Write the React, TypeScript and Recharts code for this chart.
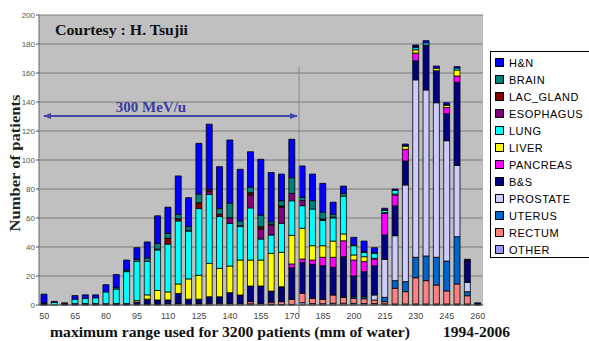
import React from 'react';
import { BarChart, Bar, XAxis, YAxis, CartesianGrid } from 'recharts';

const ranges = [50, 55, 60, 65, 70, 75, 80, 85, 90, 95, 100, 105, 110, 115, 120, 125, 130, 135, 140, 145, 150, 155, 160, 165, 170, 175, 180, 185, 190, 195, 200, 205, 210, 215, 220, 225, 230, 235, 240, 245, 250, 255, 260];

const hn = [6, 0.7, 0, 2.5, 2.5, 2, 5, 9, 7, 8, 11, 19, 18, 26.5, 20, 35, 45, 28.7, 43.7, 35.6, 24.5, 38.5, 34, 18.4, 26.5, 21.6, 18.3, 19.9, 8.3, 5, 5.3, 7.3, 3.4, 1, 1, 1, 1, 1.5, 1.5, 1.3, 1, 0.5, 0];
const brain = [0.5, 0, 0, 0, 0, 0, 0, 1, 1, 1.5, 2.5, 4, 3.5, 3, 2.5, 6, 0, 4.2, 9.9, 3.3, 3.7, 8, 1.6, 3.6, 10.8, 2.3, 5.8, 4.7, 2, 2, 0.5, 0.5, 0.5, 0.5, 0, 0.5, 0.8, 0, 0, 0, 0, 0, 0];
const lacGland = [0, 0, 0.5, 0, 0, 0, 0, 0, 0, 0, 0, 0.5, 4, 1.5, 0.5, 4, 1.5, 1.5, 0, 0.5, 1.6, 1.5, 0.5, 1, 0, 0, 0, 1, 0.5, 0, 0, 0, 0, 0, 0, 0, 0, 0, 0, 0, 0, 0, 0];
const esophagus = [0, 0, 0, 0, 0, 0, 0, 0, 0, 0, 0, 0, 0, 0, 0, 0, 2, 0, 3.9, 0, 9, 7, 7, 11, 5.1, 3.5, 0, 0, 0, 0, 0, 0, 0, 0, 0, 0, 0, 0, 0, 0, 0, 0, 0];
const lung = [0, 1.8, 0, 3, 3.5, 4, 8, 10, 22, 27, 23, 28, 33, 43.5, 33, 46, 47.5, 35.7, 29.4, 23.2, 35.9, 14.5, 12.7, 20, 23.9, 15.6, 25.3, 17.4, 16, 26, 6.4, 3, 3.4, 1.5, 2.5, 0, 1.5, 1.5, 0, 0.5, 1.4, 0, 0];
const liver = [0, 0, 0, 0, 0, 0, 0, 0, 0, 1, 3, 6.5, 5.5, 6.5, 14, 16.5, 23, 19.6, 18.4, 24.1, 17.9, 17.9, 26, 23.7, 19.7, 21.2, 9.9, 8, 11.2, 4.7, 3.5, 3.4, 0.5, 0.5, 0.6, 2.1, 2.3, 0, 1.7, 1.5, 4.1, 0.5, 0];
const pancreas = [0, 0, 0, 0, 0, 0, 0, 0, 0, 0, 0, 0, 0, 0, 0, 0, 0, 0, 0, 0, 0, 0, 0, 0, 2.6, 2.3, 2.9, 5.8, 6.9, 11, 11, 6.9, 4.6, 14.9, 7.6, 8.1, 5.3, 0.5, 0, 4.3, 4.3, 0, 0];
const bs = [1, 0, 1, 1, 1, 1, 1, 1, 1, 2, 3.5, 3, 2.5, 7, 3.5, 3, 4.5, 4.5, 7.5, 5.9, 10.8, 12, 7.6, 10.3, 21.8, 21.4, 23.5, 23.2, 19.1, 27.6, 14.3, 17.3, 20.2, 16.8, 20.5, 16.5, 13.1, 30.5, 22.1, 18.6, 57.3, 14.9, 1.5];
const prostate = [0, 0, 0, 0, 0, 0, 0, 0, 0, 0, 0, 0, 0, 0, 0, 0, 0, 0, 0, 0, 0, 0, 0, 0, 0, 0, 0, 0, 0, 0, 0, 0, 3.5, 26.2, 31, 66.7, 122.4, 114.5, 106.6, 83, 49.2, 6.4, 0];
const uterus = [0, 0, 0, 0, 0, 0, 0, 0, 0, 0, 0, 0, 0, 0, 0, 0, 0, 0, 0, 0, 0, 0, 0, 0, 0, 0, 0, 0, 0, 0.5, 1.2, 1.4, 0, 3, 5.3, 6.9, 14.1, 17, 19.1, 20.6, 32.6, 2.8, 0];
const rectum = [0, 0, 0, 0, 0, 0, 0, 0, 0, 0, 0, 0, 0, 0, 0, 0, 0, 0, 0, 0, 1.5, 0, 1.5, 2, 3.5, 6.4, 3.6, 3, 5.7, 4, 3.3, 3.3, 2.4, 1.5, 10.8, 8.5, 18.1, 16.1, 13.1, 9, 13.8, 5.7, 0];
const other = [0, 0, 0, 0, 0, 0, 0, 0, 0, 0, 0.5, 0.5, 1, 1, 0.5, 1, 1.2, 1.2, 1, 1, 0.8, 1.1, 0.5, 0.3, 0.4, 1.6, 1, 0.9, 1.2, 1.2, 1.2, 1, 1, 0.8, 0.7, 0.7, 0.7, 0.7, 0.7, 0.7, 0.7, 0.7, 0];

const yTicks = [0, 20, 40, 60, 80, 100, 120, 140, 160, 180, 200];

// stacking order: bottom first
const series = [
  { key: 'OTHER', values: other, color: '#9999FF' },
  { key: 'RECTUM', values: rectum, color: '#FF8080' },
  { key: 'UTERUS', values: uterus, color: '#0066CC' },
  { key: 'PROSTATE', values: prostate, color: '#CCCCFF' },
  { key: 'B&S', values: bs, color: '#000080' },
  { key: 'PANCREAS', values: pancreas, color: '#FF00FF' },
  { key: 'LIVER', values: liver, color: '#FFFF00' },
  { key: 'LUNG', values: lung, color: '#00FFFF' },
  { key: 'ESOPHAGUS', values: esophagus, color: '#800080' },
  { key: 'LAC_GLAND', values: lacGland, color: '#800000' },
  { key: 'BRAIN', values: brain, color: '#008080' },
  { key: 'H&N', values: hn, color: '#0000FF' },
];

const legendOrder = [...series].reverse();

const data = ranges.map((r, i) => {
  const row: Record<string, number> = { range: r };
  series.forEach((s) => {
    row[s.key] = s.values[i];
  });
  return row;
});

const serif = '"Liberation Serif", "Times New Roman", serif';
const sans = '"Liberation Sans", Arial, sans-serif';

export default function App() {
  return (
    <div style={{ position: 'absolute', left: 0, top: 0, width: 589, height: 341, background: '#fff' }}>
      <BarChart
        width={589}
        height={341}
        data={data}
        margin={{ top: 15, right: 106, bottom: 0, left: 0 }}
        barSize={6}
      >
        <CartesianGrid vertical={false} fill="#C0C0C0" stroke="#7a7a7a" strokeWidth={1} />
        <XAxis
          dataKey="range"
          interval={2}
          height={36}
          tickLine={false}
          axisLine={{ stroke: '#555' }}
          tick={{ fontSize: 9, fill: '#444', fontFamily: sans }}
          tickMargin={2}
        />
        <YAxis
          width={39}
          domain={[0, 200]}
          ticks={yTicks}
          interval={0}
          tickSize={3}
          tickLine={{ stroke: '#555' }}
          axisLine={{ stroke: '#666' }}
          tick={{ fontSize: 8, fill: '#555', fontFamily: sans }}
          tickMargin={1}
        />
        {series.map((s) => (
          <Bar
            key={s.key}
            dataKey={s.key}
            stackId="a"
            fill={s.color}
            stroke="#000"
            strokeWidth={0.8}
            isAnimationActive={false}
          />
        ))}
      </BarChart>
      <svg
        width={589}
        height={341}
        style={{ position: 'absolute', left: 0, top: 0, pointerEvents: 'none' }}
      >
        <defs>
          <marker id="ah" markerWidth="8" markerHeight="8" refX="7" refY="4" orient="auto-start-reverse" markerUnits="userSpaceOnUse">
            <path d="M0,1 L8,4 L0,7 Z" fill="#4646A8" />
          </marker>
        </defs>
        <text x={55} y={35} fontFamily={serif} fontWeight="bold" fontSize={14} fill="#111" textLength={133} lengthAdjust="spacingAndGlyphs">Courtesy : H. Tsujii</text>
        <line x1={299} y1={67} x2={299} y2={317} stroke="#8a8a8a" strokeWidth={1} />
        <line x1={44} y1={116} x2={297} y2={116} stroke="#4646A8" strokeWidth={2} markerStart="url(#ah)" markerEnd="url(#ah)" />
        <text x={151} y={112} textAnchor="middle" fontFamily={serif} fontWeight="bold" fontSize={15} fill="#3C3CA0">300 MeV/u</text>
        <text
          x={0}
          y={0}
          transform="translate(20,163) rotate(-90)"
          textAnchor="middle"
          fontFamily={serif}
          fontWeight="bold"
          fontSize={15}
          fill="#222"
          textLength={137}
          lengthAdjust="spacingAndGlyphs"
        >
          Number of patients
        </text>
        <text x={50} y={337} fontFamily={serif} fontWeight="bold" fontSize={14} fill="#111" textLength={360} lengthAdjust="spacingAndGlyphs">
          maximum range used for 3200 patients  (mm of water)
        </text>
        <text x={443} y={337} fontFamily={serif} fontWeight="bold" fontSize={14} fill="#111" textLength={67} lengthAdjust="spacingAndGlyphs">1994-2006</text>
      </svg>
      <div
        style={{
          position: 'absolute',
          left: 490,
          top: 51,
          width: 100,
          height: 207,
          border: '1px solid #000',
          background: '#fff',
          boxSizing: 'border-box',
          paddingTop: 2,
          fontFamily: sans,
          fontSize: 11,
          letterSpacing: 0.5,
          color: '#000',
        }}
      >
        {legendOrder.map((s) => (
          <div key={s.key} style={{ height: 17, display: 'flex', alignItems: 'center', whiteSpace: 'nowrap' }}>
            <span
              style={{
                display: 'inline-block',
                width: 7,
                height: 7,
                marginLeft: 4,
                marginRight: 5,
                background: s.color,
                border: '1px solid #000',
              }}
            />
            <span>{s.key}</span>
          </div>
        ))}
      </div>
    </div>
  );
}
